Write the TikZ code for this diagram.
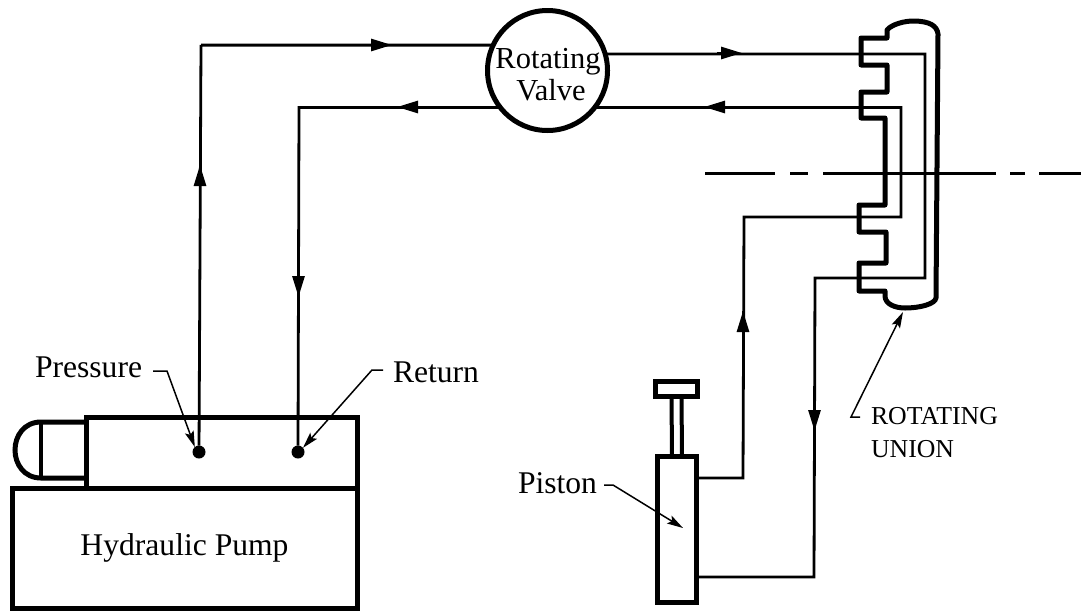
\documentclass[tikz,border=0pt]{standalone}
\usepackage{fontspec}
\setmainfont{Liberation Serif}
\usetikzlibrary{arrows.meta}
\tikzset{
  x=1pt,y=-1pt,
  heavy/.style={draw=black,line width=5pt,line join=miter},
  boxnode/.style={heavy,rectangle,inner sep=0pt,outer sep=0pt},
  pipe/.style={draw=black,line width=2.8pt,line join=miter},
  flow/.style={draw=black,line width=2.8pt,-{Triangle[length=21pt,width=12pt]}},
  leader/.style={draw=black,line width=1.5pt,-{Stealth[length=16pt,width=9pt,inset=3pt]}},
  portdot/.style={circle,fill=black,inner sep=0pt,outer sep=0pt,minimum size=13pt},
  lbl/.style={inner sep=0pt,outer sep=0pt,anchor=base west,font=\fontsize{31.6}{33}\selectfont},
  smalllbl/.style={inner sep=0pt,outer sep=0pt,anchor=base west,font=\fontsize{25.8}{27}\selectfont},
  axisline/.style={draw=black,line width=3pt}
}
\begin{document}
\begin{tikzpicture}
\useasboundingbox (0,0) rectangle (1081,611);
% Pump
\node[boxnode,minimum width=345pt,minimum height=120pt,font=\fontsize{31.6}{33}\selectfont] (pump) at (184.5,548) {Hydraulic Pump};
\node[boxnode,minimum width=271pt,minimum height=71pt] (head) at (221.5,452.5) {};
\draw[heavy] (86,422) -- (41,422) .. controls (24,422) and (15,436) .. (15,450) .. controls (15,464) and (24,478) .. (41,478) -- (86,478);
\draw[heavy,line width=4pt] (41,422) -- (41,478);
\node[portdot] (pdot) at (199,452) {};
\node[portdot] (rdot) at (298,452) {};
% Valve
\node[circle,heavy,inner sep=0pt,outer sep=0pt,minimum size=120pt] (valve) at (547.5,70.5) {};
\node[inner sep=0pt,anchor=base,font=\fontsize{30.5}{33}\selectfont] (valvetop) at (548,68) {Rotating};
\node[inner sep=0pt,anchor=base,font=\fontsize{30.5}{33}\selectfont] (valvebot) at (551,100) {Valve};
% Piston
\node[boxnode,minimum width=39pt,minimum height=146pt] (piston) at (676.5,529) {};
\node[boxnode,minimum width=42pt,minimum height=15pt] (handle) at (676,388.5) {};
\draw[heavy,line width=4pt] ([xshift=-4.5pt]handle.south) -- ([xshift=-4.5pt]piston.north);
\draw[heavy,line width=4pt] ([xshift=5.5pt]handle.south) -- ([xshift=5.5pt]piston.north);
% Pipe waypoints
\coordinate (a1) at (201,45);
\coordinate (b1) at (299,107);
\coordinate (c2) at (925,53);
\coordinate (c3) at (925,278);
\coordinate (c4) at (815,278);
\coordinate (c6) at (814,577);
\coordinate (d2) at (901,107);
\coordinate (d3) at (901,217);
\coordinate (d4) at (744,217);
\coordinate (d6) at (743,478);
% Arrowhead positions: base and tip
\coordinate (ah1b) at (200,192); \coordinate (ah1t) at (200,165);
\coordinate (ah2b) at (368,45);  \coordinate (ah2t) at (392,45);
\coordinate (ah3b) at (422,107); \coordinate (ah3t) at (397,107);
\coordinate (ah4b) at (298.5,272); \coordinate (ah4t) at (298.5,297);
\coordinate (ah5b) at (717,53);  \coordinate (ah5t) at (742,53);
\coordinate (ah6b) at (729,107); \coordinate (ah6t) at (704,107);
\coordinate (ah7b) at (743,336); \coordinate (ah7t) at (743,311);
\coordinate (ah8b) at (814.5,406); \coordinate (ah8t) at (814.5,431);
% Pipes
\draw[pipe] (pdot) -- (a1) -- (valve.155 -| a1) -- (valve.155);
\draw[pipe] (valve.218) -- (valve.218 -| b1) -- (rdot);
\draw[pipe] (valve.16) -- (valve.16 -| c2) -- (c3) -- (c4) -- (c6) -- (c6 -| piston.east);
\draw[pipe] (valve.322) -- (valve.322 -| d2) -- (d3) -- (d4) -- (d6) -- (d6 -| piston.east);
\foreach \n in {1,...,8} \draw[flow] (ah\n b) -- (ah\n t);
% Union
\draw[heavy,line join=round] (887,38) -- (887,30) .. controls (892,24) and (905,21) .. (913,21) .. controls (930,21) and (937,26) .. (938,34)
  -- (936,298) .. controls (935,304) and (920,308) .. (905,308) .. controls (895,308) and (885,304) .. (885,296)
  -- (885,291) -- (859,291) -- (859,263) -- (886,263) -- (886,232) -- (859,232) -- (859,205) -- (885,205)
  -- (885,118) -- (861,118) -- (861,92) -- (887,92) -- (887,65) -- (861,65) -- (861,38) -- cycle;
% Axis
\coordinate (e0) at (705,173); \coordinate (e1) at (775,173);
\coordinate (e2) at (790,173); \coordinate (e3) at (808,173);
\coordinate (e4) at (823,173); \coordinate (e5) at (996,173);
\coordinate (e6) at (1010,173); \coordinate (e7) at (1025,173);
\coordinate (e8) at (1039,173); \coordinate (e9) at (1081,173);
\draw[axisline] (e0) -- (e1) (e2) -- (e3) (e4) -- (e5) (e6) -- (e7) (e8) -- (e9);
% Labels
\node[lbl] (plabel) at (35,377) {Pressure};
\node[lbl] (rlabel) at (393,382) {Return};
\node[lbl] (slabel) at (518,493) {Piston};
\node[smalllbl] (ulabel) at (871,424) {ROTATING};
\node[smalllbl] (ulabelb) at (871,457) {UNION};
\coordinate (pfrom) at (153,371);
\coordinate (rfrom) at (383,370);
\coordinate (sfrom) at (604,485);
\coordinate (sto) at (683,528);
\coordinate (ufrom) at (860,417);
\coordinate (uto) at (903,312);
\draw[leader] (pfrom) -- (167,371) -- (pdot.130);
\draw[leader] (rfrom) -- (372,370) -- (rdot.40);
\draw[leader] (sfrom) -- (613,485) -- (sto);
\draw[leader] (ufrom) -- (851,417) -- (uto);
\end{tikzpicture}
\end{document}
